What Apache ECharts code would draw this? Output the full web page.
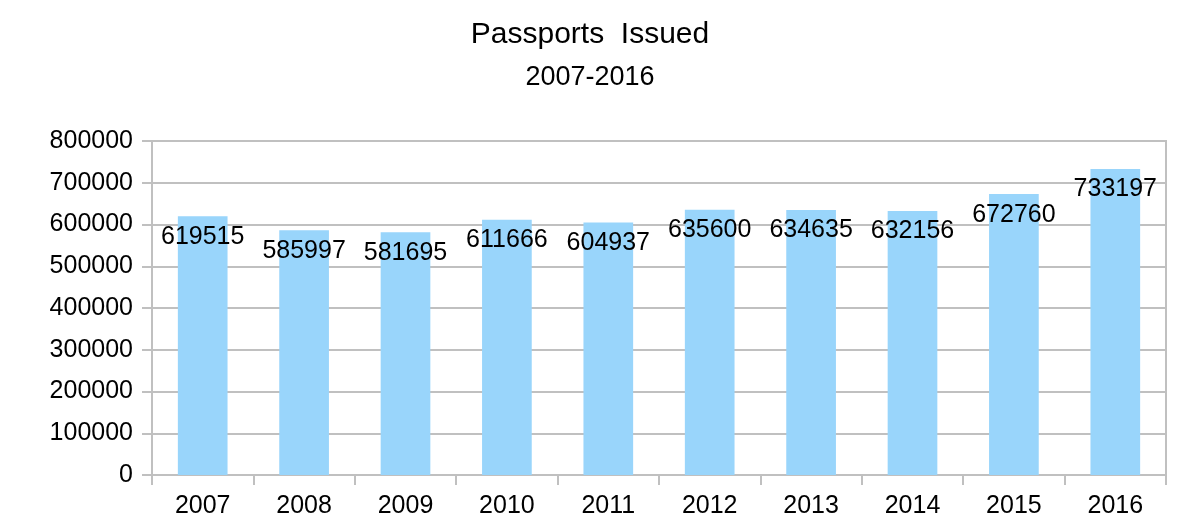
<!DOCTYPE html>
<html>
<head>
<meta charset="utf-8">
<script src="https://cdn.jsdelivr.net/npm/echarts@6/dist/echarts.min.js"></script>
<style>html,body{margin:0;padding:0;background:#fff;}#c{width:1180px;height:528px;}</style>
</head>
<body>
<div id="c"></div>
<script>
const categories = ['2007','2008','2009','2010','2011','2012','2013','2014','2015','2016'];
const passports = [619515, 585997, 581695, 611666, 604937, 635600, 634635, 632156, 672760, 733197];
const titleText = 'Passports  Issued';
const subtitleText = '2007-2016';

const chart = echarts.init(document.getElementById('c'), null, {renderer: 'canvas'});
const font = '"Liberation Sans", Arial, sans-serif';
chart.setOption({
  animation: false,
  backgroundColor: '#ffffff',
  title: [
    {text: titleText, left: 'center', top: 15, textStyle: {fontFamily: font, fontSize: 30, fontWeight: 'normal', color: '#000'}},
    {text: subtitleText, left: 'center', top: 59, textStyle: {fontFamily: font, fontSize: 27, fontWeight: 'normal', color: '#000'}}
  ],
  grid: {left: 152, right: 14, top: 141, bottom: 53, show: true, borderColor: '#c0c0c0', borderWidth: 2},
  xAxis: {
    type: 'category',
    data: categories,
    axisLine: {lineStyle: {color: '#c0c0c0', width: 2}},
    axisTick: {show: true, length: 10, lineStyle: {color: '#c0c0c0', width: 2}},
    axisLabel: {fontFamily: font, fontSize: 25, color: '#000', margin: 19}
  },
  yAxis: {
    type: 'value',
    min: 0, max: 800000, interval: 100000,
    axisLine: {show: true, lineStyle: {color: '#c0c0c0', width: 2}},
    axisTick: {show: true, length: 10, lineStyle: {color: '#c0c0c0', width: 2}},
    splitLine: {lineStyle: {color: '#c0c0c0', width: 2}},
    axisLabel: {fontFamily: font, fontSize: 25, color: '#000', margin: 19, formatter: function (v) { return String(v); }}
  },
  series: [{
    type: 'bar',
    data: passports,
    barWidth: '49%',
    itemStyle: {color: '#99d5fb'},
    label: {show: true, position: 'insideTop', distance: 8, fontFamily: font, fontSize: 25, color: '#000', formatter: function (p) { return String(p.value); }}
  }]
});
</script>
</body>
</html>
